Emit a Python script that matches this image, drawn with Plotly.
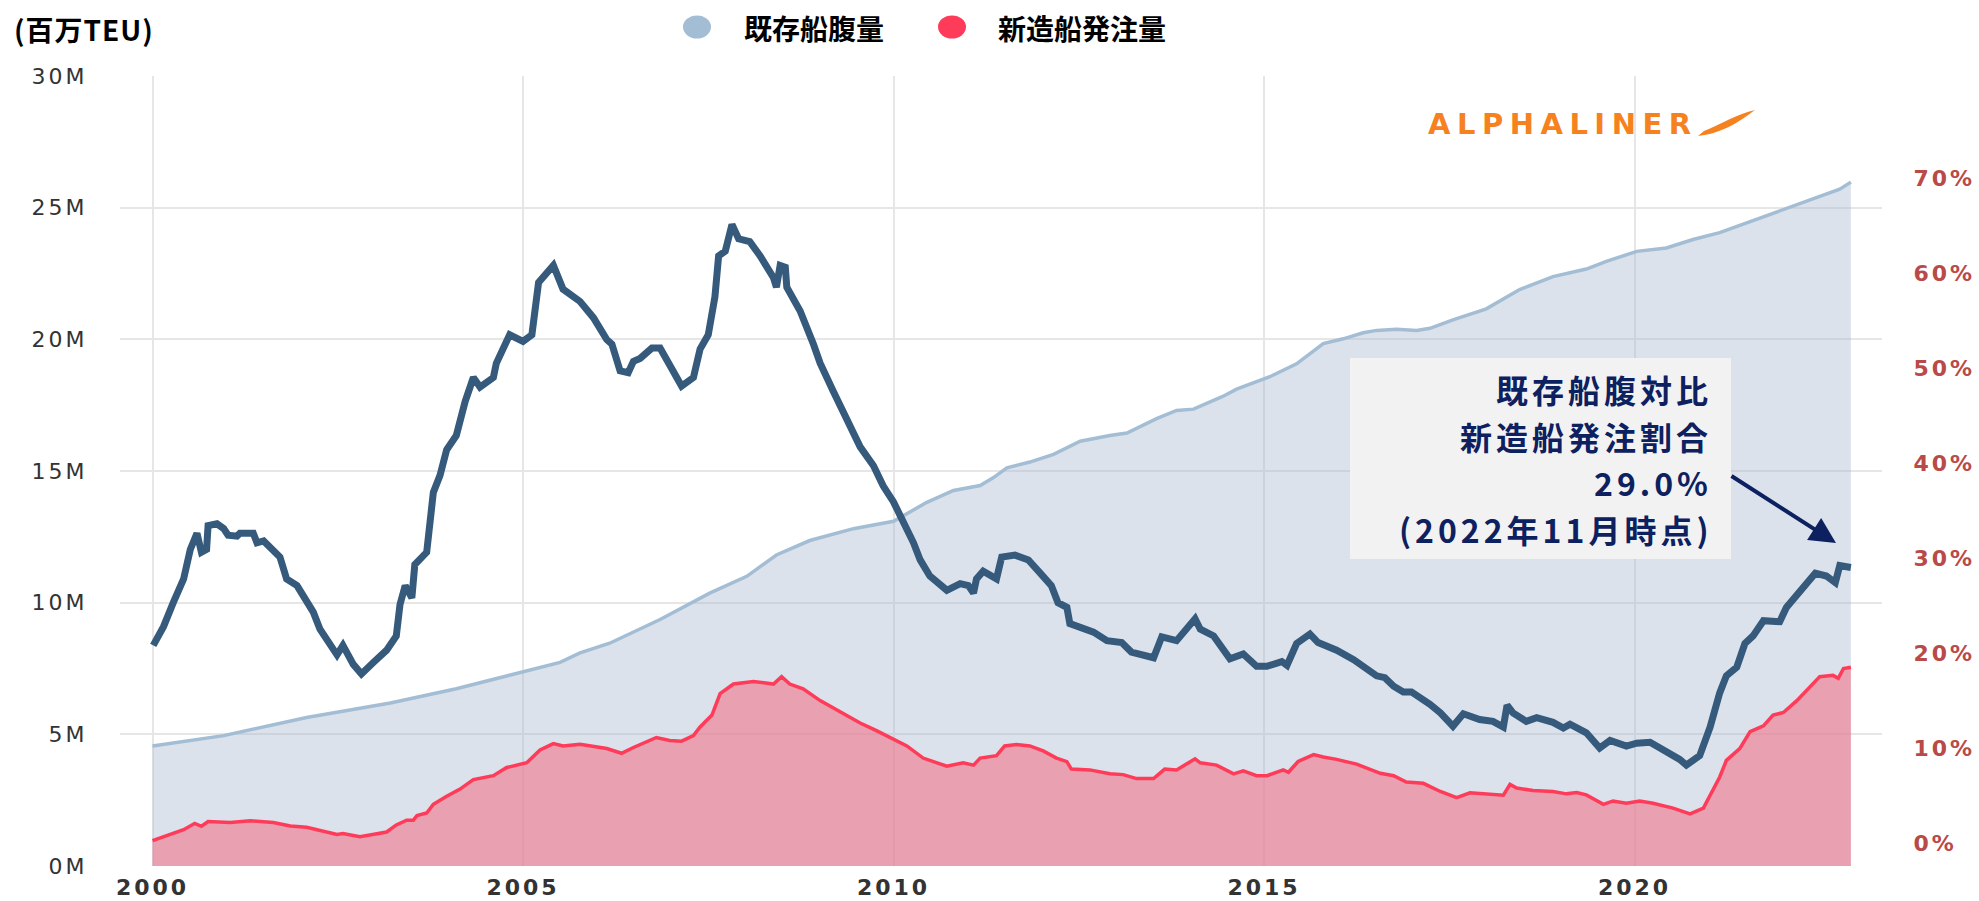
import plotly.graph_objects as go

# ---------------- data ----------------
fleet_years = [2000.00, 2000.96, 2002.08, 2003.21, 2004.10, 2005.14, 2005.50, 2005.77, 2006.17,
               2006.85, 2007.52, 2008.02, 2008.42, 2008.87, 2009.46, 2010.00, 2010.45, 2010.81,
               2011.17, 2011.35, 2011.53, 2011.84, 2012.16, 2012.52, 2012.92, 2013.15, 2013.55,
               2013.82, 2014.05, 2014.45, 2014.63, 2015.08, 2015.44, 2015.80, 2016.07, 2016.34,
               2016.52, 2016.79, 2017.06, 2017.24, 2017.55, 2018.00, 2018.45, 2018.90, 2019.35,
               2019.62, 2020.03, 2020.43, 2020.79, 2021.15, 2021.60, 2022.05, 2022.50, 2022.77,
               2022.92]
fleet_m = [4.56, 4.95, 5.64, 6.19, 6.73, 7.46, 7.73, 8.09, 8.46,
           9.36, 10.36, 11.00, 11.81, 12.36, 12.81, 13.09, 13.81, 14.26,
           14.45, 14.75, 15.12, 15.34, 15.63, 16.13, 16.35, 16.44, 16.99,
           17.30, 17.35, 17.84, 18.11, 18.58, 19.07, 19.84, 20.02, 20.25,
           20.34, 20.38, 20.34, 20.42, 20.74, 21.16, 21.89, 22.38, 22.67,
           22.96, 23.34, 23.47, 23.79, 24.05, 24.52, 24.97, 25.43, 25.70,
           25.97]

order_years = [2000.00, 2000.42, 2000.57, 2000.66, 2000.75, 2001.05, 2001.32, 2001.63, 2001.86,
               2002.08, 2002.49, 2002.57, 2002.80, 2003.16, 2003.29, 2003.43, 2003.52, 2003.57,
               2003.70, 2003.79, 2003.97, 2004.15, 2004.33, 2004.60, 2004.78, 2005.05, 2005.23,
               2005.41, 2005.54, 2005.77, 2006.13, 2006.33, 2006.49, 2006.80, 2006.98, 2007.14,
               2007.30, 2007.39, 2007.55, 2007.66, 2007.84, 2008.11, 2008.38, 2008.49, 2008.60,
               2008.78, 2009.01, 2009.23, 2009.55, 2009.77, 2010.00, 2010.18, 2010.40, 2010.72,
               2010.94, 2011.08, 2011.17, 2011.39, 2011.50, 2011.66, 2011.84, 2012.02, 2012.20,
               2012.34, 2012.40, 2012.65, 2012.92, 2013.10, 2013.28, 2013.51, 2013.66, 2013.82,
               2014.07, 2014.14, 2014.36, 2014.59, 2014.72, 2014.90, 2015.04, 2015.26, 2015.33,
               2015.46, 2015.67, 2015.80, 2015.98, 2016.25, 2016.57, 2016.75, 2016.92, 2017.15,
               2017.38, 2017.60, 2017.78, 2018.00, 2018.23, 2018.32, 2018.41, 2018.63, 2018.90,
               2019.08, 2019.22, 2019.35, 2019.58, 2019.71, 2019.89, 2020.07, 2020.25, 2020.52,
               2020.75, 2020.93, 2021.06, 2021.15, 2021.24, 2021.42, 2021.56, 2021.74, 2021.87,
               2022.01, 2022.19, 2022.50, 2022.68, 2022.75, 2022.82, 2022.92]
order_m = [0.96, 1.38, 1.62, 1.51, 1.69, 1.65, 1.72, 1.65, 1.52,
           1.47, 1.20, 1.23, 1.11, 1.29, 1.56, 1.74, 1.74, 1.92,
           2.01, 2.34, 2.65, 2.92, 3.28, 3.43, 3.74, 3.92, 4.41,
           4.65, 4.56, 4.62, 4.46, 4.28, 4.50, 4.88, 4.77, 4.74,
           4.95, 5.28, 5.73, 6.55, 6.91, 7.01, 6.91, 7.19, 6.91,
           6.73, 6.28, 5.92, 5.43, 5.14, 4.83, 4.56, 4.10, 3.79,
           3.92, 3.83, 4.10, 4.19, 4.56, 4.61, 4.56, 4.37, 4.10,
           3.96, 3.68, 3.65, 3.50, 3.47, 3.32, 3.32, 3.68, 3.65,
           4.07, 3.92, 3.83, 3.50, 3.61, 3.43, 3.43, 3.65, 3.56,
           3.97, 4.23, 4.14, 4.05, 3.87, 3.52, 3.43, 3.19, 3.14,
           2.83, 2.60, 2.78, 2.74, 2.69, 3.10, 2.96, 2.87, 2.83,
           2.74, 2.79, 2.70, 2.34, 2.47, 2.38, 2.47, 2.38, 2.20,
           1.98, 2.20, 2.92, 3.38, 4.01, 4.46, 5.10, 5.32, 5.73,
           5.83, 6.28, 7.19, 7.24, 7.13, 7.50, 7.55]

ratio_years = [2000.01, 2000.15, 2000.28, 2000.42, 2000.51, 2000.60, 2000.66, 2000.73, 2000.75,
               2000.87, 2000.96, 2001.02, 2001.14, 2001.18, 2001.36, 2001.41, 2001.50, 2001.63,
               2001.72, 2001.81, 2001.95, 2002.17, 2002.26, 2002.49, 2002.57, 2002.71, 2002.82,
               2002.98, 2003.16, 2003.29, 2003.34, 2003.41, 2003.50, 2003.54, 2003.70, 2003.79,
               2003.88, 2003.97, 2004.10, 2004.22, 2004.33, 2004.42, 2004.60, 2004.64, 2004.82,
               2005.00, 2005.12, 2005.21, 2005.41, 2005.54, 2005.68, 2005.77, 2005.95, 2006.13,
               2006.20, 2006.31, 2006.42, 2006.49, 2006.58, 2006.74, 2006.85, 2007.03, 2007.14,
               2007.30, 2007.39, 2007.50, 2007.59, 2007.64, 2007.73, 2007.82, 2007.91, 2008.06,
               2008.20, 2008.38, 2008.42, 2008.47, 2008.54, 2008.56, 2008.65, 2008.74, 2008.92,
               2009.01, 2009.19, 2009.32, 2009.46, 2009.55, 2009.73, 2009.86, 2010.00, 2010.13,
               2010.27, 2010.36, 2010.49, 2010.72, 2010.90, 2011.01, 2011.08, 2011.12, 2011.21,
               2011.39, 2011.46, 2011.64, 2011.82, 2011.98, 2012.13, 2012.22, 2012.34, 2012.38,
               2012.52, 2012.70, 2012.88, 2013.08, 2013.21, 2013.33, 2013.51, 2013.62, 2013.82,
               2014.07, 2014.14, 2014.32, 2014.54, 2014.72, 2014.90, 2015.04, 2015.24, 2015.31,
               2015.44, 2015.62, 2015.73, 2015.98, 2016.21, 2016.52, 2016.63, 2016.75, 2016.88,
               2016.99, 2017.15, 2017.24, 2017.38, 2017.55, 2017.69, 2017.91, 2018.09, 2018.23,
               2018.28, 2018.36, 2018.54, 2018.68, 2018.90, 2019.04, 2019.13, 2019.35, 2019.53,
               2019.67, 2019.89, 2020.03, 2020.21, 2020.43, 2020.61, 2020.70, 2020.88, 2021.02,
               2021.15, 2021.24, 2021.38, 2021.49, 2021.60, 2021.74, 2021.96, 2022.05, 2022.28,
               2022.44, 2022.59, 2022.71, 2022.77, 2022.92]
ratio_pct = [20.8, 22.8, 25.3, 27.8, 30.9, 32.6, 30.6, 30.9, 33.4,
             33.6, 33.1, 32.4, 32.3, 32.6, 32.6, 31.6, 31.8, 30.9,
             30.1, 27.8, 27.1, 24.3, 22.5, 19.8, 20.8, 18.8, 17.8,
             19.0, 20.3, 21.8, 25.1, 27.1, 25.8, 29.3, 30.6, 36.9,
             38.7, 41.4, 42.9, 46.5, 49.0, 48.0, 49.0, 50.5, 53.5,
             52.8, 53.5, 59.0, 60.8, 58.3, 57.5, 57.0, 55.3, 53.0,
             52.5, 49.7, 49.5, 50.7, 51.0, 52.1, 52.1, 49.5, 48.1,
             49.0, 52.0, 53.5, 57.5, 61.8, 62.3, 65.1, 63.6, 63.3,
             61.8, 59.5, 58.5, 60.8, 60.6, 58.5, 57.3, 56.0, 52.5,
             50.5, 47.5, 45.5, 43.2, 41.7, 39.7, 37.6, 35.9, 33.9,
             31.6, 29.8, 28.1, 26.6, 27.3, 27.1, 26.3, 27.8, 28.6,
             27.8, 30.1, 30.3, 29.8, 28.4, 27.1, 25.3, 24.8, 23.1,
             22.7, 22.2, 21.3, 21.1, 20.1, 19.8, 19.5, 21.7, 21.3,
             23.6, 22.5, 21.8, 19.4, 19.9, 18.6, 18.6, 19.1, 18.7,
             21.0, 22.0, 21.1, 20.3, 19.3, 17.6, 17.4, 16.5, 15.9,
             15.9, 15.2, 14.6, 13.7, 12.3, 13.6, 13.0, 12.8, 12.2,
             14.5, 13.7, 12.8, 13.2, 12.7, 12.1, 12.5, 11.6, 10.0,
             10.8, 10.2, 10.5, 10.6, 9.7, 8.8, 8.2, 9.2, 12.2,
             15.8, 17.6, 18.5, 21.0, 21.8, 23.4, 23.3, 24.8, 26.8,
             28.4, 28.1, 27.4, 29.2, 29.0]

x_tick_vals = [2000, 2005, 2010, 2015, 2020]
x_tick_text = ["2000", "2005", "2010", "2015", "2020"]
left_tick_vals = [0, 5, 10, 15, 20, 25, 30]
left_tick_text = ["0M", "5M", "10M", "15M", "20M", "25M", "30M"]
right_tick_vals = [0, 10, 20, 30, 40, 50, 60, 70]
right_tick_text = ["0%", "10%", "20%", "30%", "40%", "50%", "60%", "70%"]

series_names = ["既存船腹量", "新造船発注量"]
unit_label = "(百万TEU)"
callout_lines = ["既存船腹対比", "新造船発注割合", "29.0%", "(2022年11月時点)"]
logo_text = "ALPHALINER"

# ---------------- layout geometry ----------------
W, H = 1979, 901
L, R, T, B = 120, 97, 76, 35
PW, PH = W - L - R, H - T - B


def px(x):
    return (x - L) / PW


def py(y):
    return (H - B - y) / PH


def spaced(s, sp):
    return '<span style="letter-spacing:%spx">%s</span>' % (sp, s)


CJK = "Noto Sans CJK JP"
LAT = "DejaVu Sans"
NAVY = "#0d2060"
BLUE_LINE = "#a3bdd4"
RED_LINE = "#ff3b5a"
DARK = "#355a7c"

fig = go.Figure()
fig.add_trace(go.Scatter(
    x=fleet_years, y=fleet_m, mode="lines", name=series_names[0],
    line=dict(color=BLUE_LINE, width=3.5), fill="tozeroy",
    fillcolor="rgba(165,182,207,0.4)", showlegend=False))
fig.add_trace(go.Scatter(
    x=order_years, y=order_m, mode="lines", name=series_names[1],
    line=dict(color=RED_LINE, width=3.5), fill="tozeroy",
    fillcolor="rgba(241,116,136,0.6)", showlegend=False))
fig.add_trace(go.Scatter(
    x=ratio_years, y=ratio_pct, mode="lines", yaxis="y2", name="ratio",
    line=dict(color=DARK, width=7), showlegend=False))

x_min = 2000 - 32.5 / 74.1
x_max = 2000 + (1882 - 152.5) / 74.1
y2_min = (843 - 866) / 9.5
y2_max = (843 - 76) / 9.5

fig.update_layout(
    template="none",
    width=W, height=H,
    margin=dict(l=L, r=R, t=T, b=B, pad=0, autoexpand=False),
    paper_bgcolor="white", plot_bgcolor="white",
    showlegend=False,
    xaxis=dict(range=[x_min, x_max], tickmode="array", tickvals=x_tick_vals,
               ticktext=[spaced(t, 3) for t in x_tick_text], automargin=False,
               showgrid=True, gridcolor="#e6e6e6", gridwidth=2,
               zeroline=False, showline=False, ticks="outside", ticklen=2,
               tickcolor="rgba(0,0,0,0)",
               tickfont=dict(family=LAT, size=22, color="#333333", weight=700)),
    yaxis=dict(range=[0, 30], tickmode="array", tickvals=left_tick_vals,
               ticktext=[spaced(t, 3) for t in left_tick_text], automargin=False,
               showgrid=True, gridcolor="#e6e6e6", gridwidth=2,
               zeroline=False, showline=False, ticks="outside", ticklen=27,
               tickcolor="rgba(0,0,0,0)",
               tickfont=dict(family=LAT, size=22, color="#333333")),
    yaxis2=dict(range=[y2_min, y2_max], overlaying="y", side="right", tickmode="array",
                tickvals=right_tick_vals, ticktext=[spaced(t, 3) for t in right_tick_text],
                automargin=False,
                showgrid=False, zeroline=False, showline=False, ticks="outside", ticklen=26,
                tickcolor="rgba(0,0,0,0)",
                tickfont=dict(family=LAT, size=22, color="#b94a48", weight=700)),
)

shapes = []
# callout box
shapes.append(dict(type="rect", xref="paper", yref="paper", x0=px(1350), x1=px(1731),
                   y0=py(559), y1=py(358), fillcolor="#f2f2f2", line=dict(width=0),
                   layer="above"))
# legend markers
for cx, col in [(697, BLUE_LINE), (952, RED_LINE)]:
    shapes.append(dict(type="circle", xref="paper", yref="paper",
                       x0=px(cx - 14), x1=px(cx + 14), y0=py(27 + 11.5), y1=py(27 - 11.5),
                       fillcolor=col, line=dict(width=0)))
# logo swoosh
pts = [(1698, 136), (1724, 133), (1740, 121), (1755, 110), (1737, 114), (1722, 124), (1704, 131)]
path = "M {:.5f} {:.5f} C {:.5f} {:.5f} {:.5f} {:.5f} {:.5f} {:.5f} C {:.5f} {:.5f} {:.5f} {:.5f} {:.5f} {:.5f} Z".format(
    *[v for p in pts for v in (px(p[0]), py(p[1]))])
shapes.append(dict(type="path", xref="paper", yref="paper", path=path,
                   fillcolor="#f5821f", line=dict(width=0)))
fig.update_layout(shapes=shapes)

ann = []
ann.append(dict(text="<b>" + spaced(unit_label, 1) + "</b>", xref="paper", yref="paper",
                x=px(12), y=py(29), xanchor="left", yanchor="middle", showarrow=False,
                font=dict(family=CJK, size=28, color="#000000")))
for lx, name in [(742, series_names[0]), (996, series_names[1])]:
    ann.append(dict(text="<b>" + name + "</b>", xref="paper", yref="paper",
                    x=px(lx), y=py(28), xanchor="left", yanchor="middle", showarrow=False,
                    font=dict(family=CJK, size=28, color="#000000")))
ann.append(dict(text="<b>" + spaced(logo_text, 6.5) + "</b>",
                xref="paper", yref="paper", x=px(1426), y=py(124), xanchor="left",
                yanchor="middle", showarrow=False,
                font=dict(family=LAT, size=29, color="#f5821f")))
# callout text, one annotation per line
for i, s in enumerate(callout_lines):
    ann.append(dict(text="<b>" + spaced(s, 4) + "</b>",
                    xref="paper", yref="paper", x=px(1713), y=py(389 + 46.5 * i),
                    xanchor="right", yanchor="middle", align="right", showarrow=False,
                    borderpad=0, font=dict(family=CJK, size=32, color=NAVY)))
ann.append(dict(text="", xref="paper", yref="paper", x=px(1836), y=py(543),
                ax=-106, ay=-68, showarrow=True, arrowhead=2, arrowsize=1.3,
                arrowwidth=4, arrowcolor=NAVY, standoff=0))
fig.update_layout(annotations=ann)

fig.write_html("out.html", config={"displayModeBar": False},
               post_script="document.body.style.margin='0px';"
                           "document.body.style.overflow='hidden';")
